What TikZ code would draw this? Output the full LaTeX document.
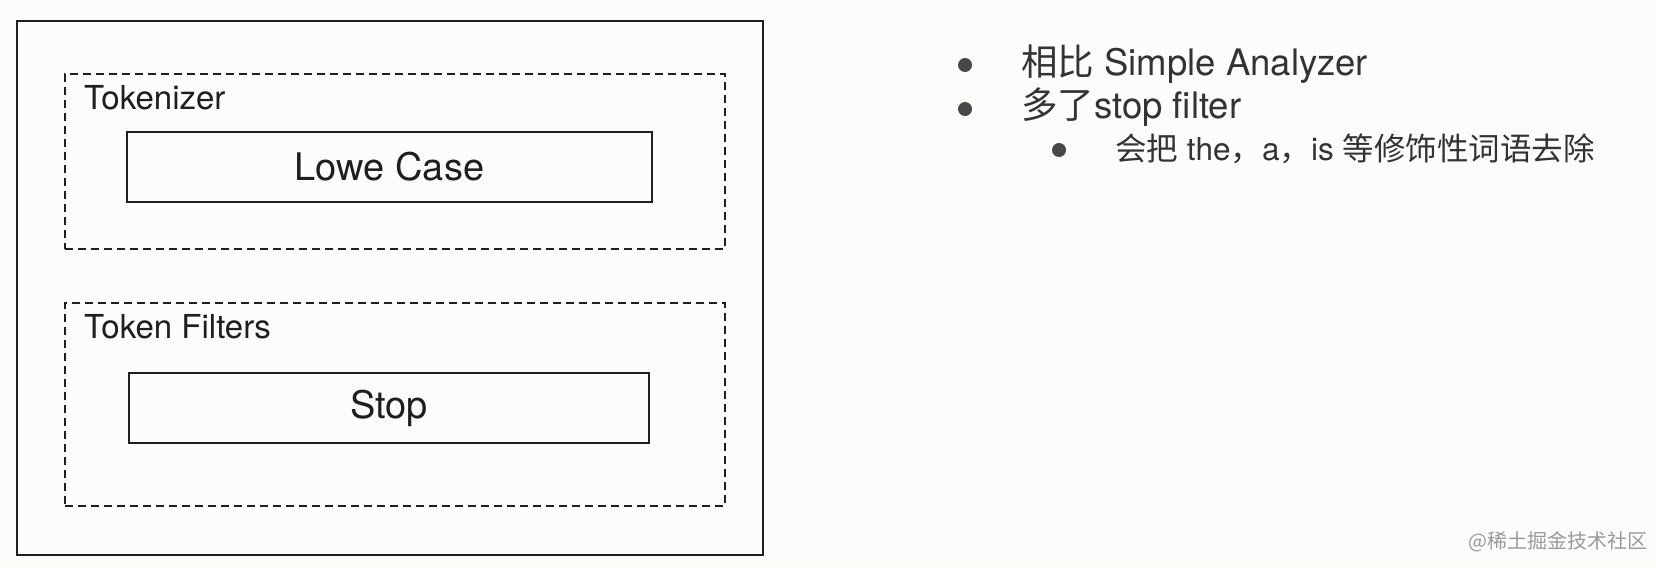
\documentclass[tikz,border=0pt]{standalone}
\usepackage{fontspec}
\setmainfont{TeX Gyre Heros}
\newfontfamily\cjk{Noto Sans CJK SC}
\definecolor{bgc}{HTML}{FCFCFA}
\definecolor{ink}{HTML}{1E1E1E}
\definecolor{rtext}{HTML}{333333}
\definecolor{dotc}{HTML}{474747}
\definecolor{wm}{HTML}{9A9A9A}
\begin{document}
\begin{tikzpicture}[x=1pt,y=-1pt,
  frame/.style={draw=ink, line width=2.2pt, inner sep=0pt, anchor=north west},
  dashbox/.style={draw=ink, line width=2.2pt, dash pattern=on 8pt off 5pt, inner sep=0pt, anchor=north west},
  solidbox/.style={draw=ink, line width=2.2pt, inner sep=0pt, anchor=center, text=ink, font=\fontsize{38}{42}\selectfont},
  grouplabel/.style={anchor=base west, inner sep=0pt, text=ink, font=\fontsize{33}{36}\selectfont},
  bigitem/.style={anchor=base west, inner sep=0pt, text=rtext, font=\fontsize{36.5}{40}\selectfont},
  smallitem/.style={anchor=base west, inner sep=0pt, text=rtext, font=\fontsize{31.5}{35}\selectfont},
  bulletdot/.style={circle, fill=dotc, minimum size=14pt, inner sep=0pt},
  watermark/.style={anchor=center, inner sep=0pt, text=wm, font=\cjk\fontsize{20}{22}\selectfont}
]
\fill[bgc] (0,0) rectangle (1656,568);
\useasboundingbox (0,0) rectangle (1656,568);

% left diagram
\node[frame, minimum width=746pt, minimum height=534pt] (outer) at (16,20) {};
\node[dashbox, minimum width=660pt, minimum height=175pt] (tokgroup) at (64,73) {};
\node[dashbox, minimum width=660pt, minimum height=203pt] (filtgroup) at (64,302) {};
\node[grouplabel] (toklabel) at (84,109) {Tokenizer};
\node[grouplabel] (filtlabel) at (84,338) {Token Filters};
\node[solidbox, minimum width=525pt, minimum height=70pt] (lowecase) at (389.5,167) {Lowe Case};
\node[solidbox, minimum width=520pt, minimum height=70pt] (stop) at (389,408) {Stop};

% right bullet list
\node[bulletdot] (b1) at (965,65) {};
\node[bigitem] (l1) at (1021,75) {{\cjk 相比} Simple Analyzer};
\node[bulletdot] (b2) at (965,109) {};
\node[bigitem] (l2) at (1021,118) {{\cjk 多了}stop filter};
\node[bulletdot] (b3) at (1059,150) {};
\node[smallitem] (l3) at (1115,160) {{\cjk 会把} the{\cjk ，}a{\cjk ，}is {\cjk 等修饰性词语去除}};

% watermark
\node[watermark] (wmark) at (1558,542) {@稀土掘金技术社区};
\end{tikzpicture}
\end{document}
